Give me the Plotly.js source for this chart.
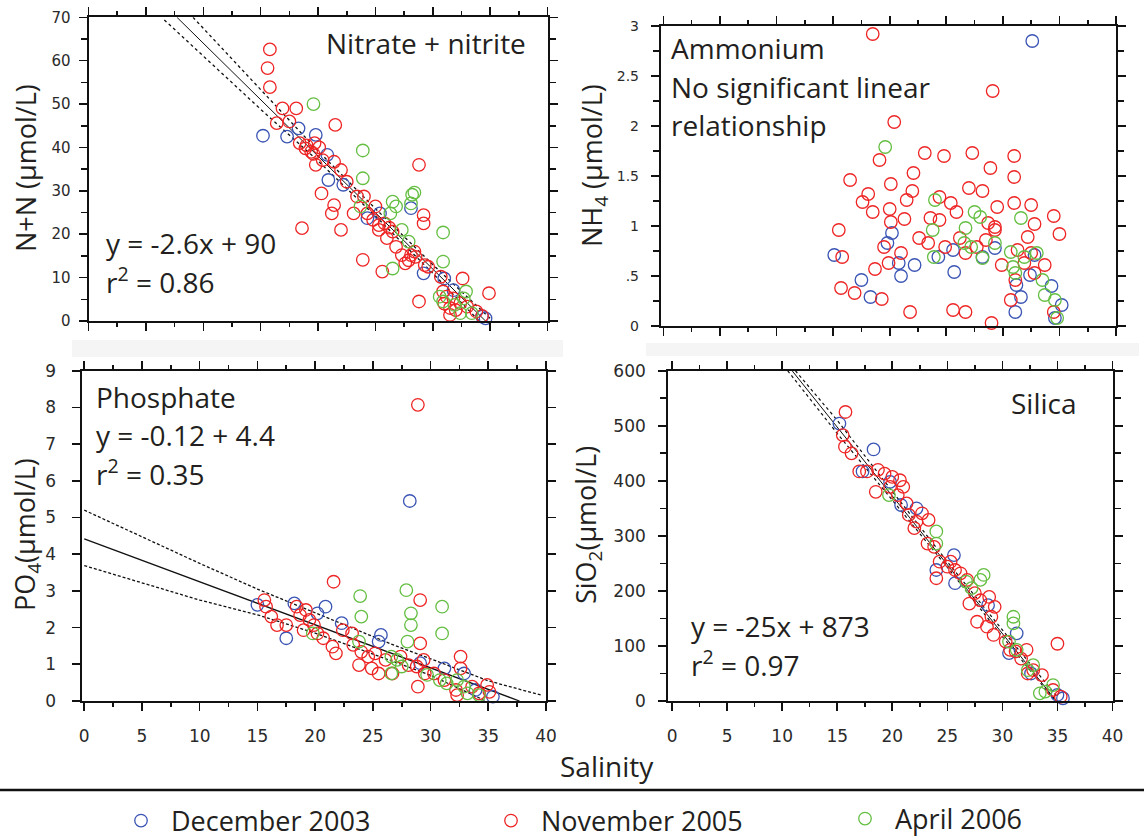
<!DOCTYPE html>
<html><head><meta charset="utf-8">
<script src="https://cdn.plot.ly/plotly-3.0.1.min.js"></script>
<style>html,body{margin:0;padding:0;background:#fff;} #chart{width:1144px;height:840px;}</style>
</head><body><div id="chart"></div>
<script>
// ---------- Nitrate + nitrite (N+N) ----------
const nnDecX = [15.2,17.3,18.3,19.8,20.8,20.9,22.2,24.3,25.4,28.1,29.2,31.0,31.8,34.3,34.6];
const nnDecY = [42.7,42.5,44.4,42.9,38.3,32.5,31.4,23.7,24.8,26.0,11.0,9.8,7.1,1.0,0.6];
const nnNovX = [15.8,15.6,15.8,16.9,18.1,16.4,17.5,21.5,18.4,18.9,19.4,19.7,19.8,20.4,21.4,22.0,20.3,21.4,21.2,22.0,18.6,23.1,23.4,24.0,25.0,24.3,24.8,25.3,23.9,25.6,26.0,26.5,26.8,27.6,27.3,28.1,28.4,28.8,29.2,29.2,28.8,29.3,29.6,30.7,30.9,31.2,31.8,32.6,32.4,33.0,33.8,34.3,34.9,31.5,22.5,25.3,19.0,19.6,20.1,25.8,26.2,27.9,28.5,31.0,31.5,32.0];
const nnNovY = [62.6,58.3,53.9,49.0,49.0,45.6,46.0,45.2,41.0,39.8,39.0,41.0,36.0,37.1,36.7,34.8,29.4,26.7,24.8,21.0,21.4,24.8,28.7,28.7,26.4,24.8,23.3,21.0,14.1,11.4,19.1,20.6,17.1,13.3,15.2,15.2,16.0,36.0,24.4,22.5,4.5,12.9,12.5,10.2,6.8,5.6,5.2,9.8,4.1,3.3,2.2,1.2,6.4,1.4,32.1,22.1,40.5,38.5,40.0,22.5,21.5,14.0,14.8,4.0,3.0,2.5];
const nnAprX = [19.6,23.9,23.9,28.4,28.2,26.5,26.8,26.3,28.1,30.9,27.3,27.9,26.5,30.9,30.6,30.9,32.9,32.7,32.4,33.4,31.9,23.7];
const nnAprY = [50.0,39.3,32.9,29.6,29.1,27.5,26.4,24.8,27.1,20.4,21.0,18.3,12.1,13.7,5.6,4.5,6.8,5.2,1.8,1.8,3.7,26.4];
const nnFitX = [7.7,34.6];   const nnFitY = [70,0];
const nnUpX = [9.1,15,20,25,30,35];  const nnUpY = [70,53.3,39.2,25.9,13.0,0.6];
const nnLoX = [6.6,15,20,25,30,35];  const nnLoY = [69.4,48.8,36.9,24.2,11.0,-2.6];

// ---------- Ammonium (NH4) ----------
const nhDecX = [32.6,15.1,17.5,18.3,19.8,20.2,20.8,21.0,22.2,24.3,25.7,25.6,28.2,29.3,31.2,31.6,31.1,32.8,32.4,34.3,35.2,34.6];
const nhDecY = [2.85,0.71,0.46,0.29,0.83,0.93,0.63,0.50,0.61,0.69,0.54,0.76,0.69,0.78,0.41,0.29,0.14,0.71,0.51,0.40,0.21,0.08];
const nhNovX = [18.5,29.1,20.4,19.1,23.1,24.8,27.3,31.0,31.0,28.9,16.5,22.1,20.1,22.0,21.5,18.1,17.6,18.5,20.0,20.1,21.3,24.4,25.4,25.9,27.0,28.2,29.5,31.0,32.5,34.5,32.8,35.0,32.2,15.5,15.8,15.7,16.9,19.3,18.7,19.9,19.5,21.0,21.8,22.6,23.4,23.6,24.4,24.9,25.6,26.7,29.0,26.2,26.7,27.7,28.5,29.3,29.9,30.7,31.1,31.3,31.9,32.5,32.8,33.7,34.5,28.7,29.3];
const nhNovY = [2.92,2.35,2.04,1.66,1.73,1.70,1.73,1.70,1.49,1.58,1.46,1.53,1.42,1.35,1.26,1.32,1.24,1.14,1.17,1.04,1.07,1.29,1.23,1.14,1.38,1.35,1.19,1.23,1.21,1.10,1.02,0.92,0.89,0.96,0.69,0.38,0.33,0.27,0.57,0.63,0.79,0.73,0.14,0.88,0.83,1.08,1.06,0.79,0.16,0.14,0.03,0.88,0.73,0.79,0.86,0.96,0.61,0.26,0.46,0.76,0.63,0.73,0.53,0.61,0.14,1.03,0.99];
const nhAprX = [19.6,24.0,31.6,27.5,28.0,23.8,23.9,26.7,26.6,27.2,28.2,29.3,30.7,30.9,31.1,31.9,33.0,33.5,33.7,34.6,34.8];
const nhAprY = [1.79,1.26,1.08,1.14,1.09,0.96,0.69,0.98,0.83,0.79,0.68,0.83,0.74,0.59,0.53,0.69,0.73,0.46,0.31,0.26,0.08];
const nhTickVals = [0,0.5,1,1.5,2,2.5,3];
const nhTickText = ['0','.5','1','1.5','2','2.5','3'];

// ---------- Phosphate (PO4) ----------
const poDecX = [28.2,15.0,17.5,18.2,20.9,20.2,22.3,25.7,25.5,29.1,31.2,32.9,33.9,35.4];
const poDecY = [5.45,2.62,1.71,2.66,2.57,2.39,2.12,1.80,1.62,1.03,0.89,0.75,0.30,0.12];
const poNovX = [28.9,21.6,29.1,29.1,32.6,15.6,15.75,16.2,16.7,17.5,18.4,18.7,19.2,19.5,19.9,20.2,19.0,20.7,21.5,21.8,22.4,23.2,23.3,24.0,23.8,24.6,24.9,25.2,25.5,26.1,26.7,27.4,28.1,28.8,29.4,29.5,28.9,30.3,31.2,32.2,32.6,33.6,34.2,34.9,35.1,32.3];
const poNovY = [8.07,3.25,2.75,1.57,1.21,2.75,2.57,2.30,2.07,2.07,2.57,2.34,2.48,2.21,2.07,1.84,1.93,1.71,1.48,1.30,1.93,1.84,1.53,1.34,0.98,1.21,0.89,1.30,0.75,1.12,0.75,1.21,0.98,0.94,1.12,0.75,0.39,0.75,0.57,0.30,0.89,0.39,0.21,0.44,0.25,0.16];
const poAprX = [27.9,23.9,24.0,28.3,28.3,28.0,31.0,31.0,19.8,23.8,26.6,27.1,26.6,27.5,29.7,30.8,31.4,32.3,32.9,33.2,34.2];
const poAprY = [3.02,2.86,2.30,2.39,2.07,1.62,2.57,1.84,1.84,1.62,1.21,1.12,0.75,0.94,0.71,0.57,0.48,0.57,0.39,0.21,0.16];
const poFitX = [0,37.7];  const poFitY = [4.42,0];
const poUpX = [0,10,15,20,27,30,35,39.7];  const poUpY = [5.2,3.75,3.05,2.4,1.5,1.15,0.55,0.15];
const poLoX = [0,10,15,20,27,30,34.8];     const poLoY = [3.69,2.75,2.35,1.85,1.05,0.7,0.0];

// ---------- Silica (SiO2) ----------
const siDecX = [15.2,18.3,17.3,19.8,20.8,22.2,25.6,24.0,25.7,28.7,31.3,30.6,32.6,35.0,35.5];
const siDecY = [504,457,417,398,356,350,265,238,214,174,123,87,50,11,5];
const siNovX = [15.75,15.5,15.7,16.3,17.0,17.7,18.7,18.5,19.3,20.0,19.8,20.7,21.0,20.5,21.3,21.5,22.2,22.0,22.7,23.3,23.2,23.8,24.0,24.3,25.0,25.3,25.7,26.2,26.8,27.0,27.5,27.7,28.0,28.8,29.0,29.3,28.6,29.2,30.3,30.7,31.2,31.7,32.2,32.3,32.8,33.6,35.0,34.6,35.3];
const siNovY = [525,483,462,450,417,417,420,380,413,407,389,401,389,374,359,338,326,314,341,329,286,280,223,253,244,253,238,232,220,177,196,144,183,189,153,171,135,120,108,93,90,77,93,50,56,47,104,20,8];
const siAprX = [19.7,24.0,24.0,28.3,28.0,26.7,27.2,31.0,31.0,30.6,31.3,32.8,32.3,34.6,33.4,33.9];
const siAprY = [374,308,286,229,220,217,205,153,141,108,93,65,56,29,14,17];
const siFitX = [10.9,34.9];  const siFitY = [600,0];
const siUpX = [11.2,15,20,25,30,35];  const siUpY = [600,510,381,253,129,7];
const siLoX = [10.5,15,20,25,30,34.8]; const siLoY = [600,486,365,243,117,0];

const seriesNames = ['December 2003','November 2005','April 2006'];

// ---------- drawing ----------
const W = 1144, H = 840;
const px = v => v / W;
const py = v => 1 - v / H;
const C = {dec:'rgb(58,84,180)', nov:'rgb(238,36,36)', apr:'rgb(100,190,66)'};
const INK = '#111';
const LEG = ['legend', 'legend2', 'legend3'];

function pts(x, y, xa, ya, k, color, show) {
  return {type:'scatter', mode:'markers', x, y, xaxis:xa, yaxis:ya, name:seriesNames[k], legendgroup:seriesNames[k],
    legend:LEG[k], showlegend:show, cliponaxis:false,
    marker:{symbol:'circle-open', size:12.5, color, line:{width:1.3, color}}};
}
function fit(x, y, xa, ya, dash, w) {
  return {type:'scatter', mode:'lines', x, y, xaxis:xa, yaxis:ya, showlegend:false,
    hoverinfo:'skip', line:{color:INK, width:w || 1, dash}};
}

const traces = [
  fit(nnFitX, nnFitY, 'x', 'y', 'solid'), fit(nnUpX, nnUpY, 'x', 'y', 'dot', 1.3), fit(nnLoX, nnLoY, 'x', 'y', 'dot', 1.3),
  fit(poFitX, poFitY, 'x3', 'y3', 'solid', 1.3), fit(poUpX, poUpY, 'x3', 'y3', '3px,2px', 1.3), fit(poLoX, poLoY, 'x3', 'y3', '3px,2px', 1.3),
  fit(siFitX, siFitY, 'x4', 'y4', 'solid'), fit(siUpX, siUpY, 'x4', 'y4', 'dot', 1.2), fit(siLoX, siLoY, 'x4', 'y4', 'dot', 1.2),

  pts(nnDecX, nnDecY, 'x', 'y', 0, C.dec, true),
  pts(nnNovX, nnNovY, 'x', 'y', 1, C.nov, true),
  pts(nnAprX, nnAprY, 'x', 'y', 2, C.apr, true),

  pts(nhDecX, nhDecY, 'x2', 'y2', 0, C.dec, false),
  pts(nhNovX, nhNovY, 'x2', 'y2', 1, C.nov, false),
  pts(nhAprX, nhAprY, 'x2', 'y2', 2, C.apr, false),

  pts(poDecX, poDecY, 'x3', 'y3', 0, C.dec, false),
  pts(poNovX, poNovY, 'x3', 'y3', 1, C.nov, false),
  pts(poAprX, poAprY, 'x3', 'y3', 2, C.apr, false),

  pts(siDecX, siDecY, 'x4', 'y4', 0, C.dec, false),
  pts(siNovX, siNovY, 'x4', 'y4', 1, C.nov, false),
  pts(siAprX, siAprY, 'x4', 'y4', 2, C.apr, false)
];

const tickFont = (s) => ({family:'DejaVu Sans', size:s, color:'#2a2a2a'});
function xax(d0, d1, r0, labels, anchor) {
  return {domain:[px(d0), px(d1)], range:[r0, 40], anchor, tickmode:'linear', tick0:0, dtick:5,
    ticks:'outside', ticklen:8, tickwidth:1.6, tickcolor:INK,
    showline:true, linewidth:2, linecolor:INK, mirror:'ticks',
    showgrid:false, zeroline:false, showticklabels:labels, tickfont:tickFont(17), ticklabelstandoff:11,
    minor:{dtick:2.5, tick0:0, ticks:'outside', ticklen:4, tickwidth:1.6, tickcolor:INK, showgrid:false},
    fixedrange:true};
}
function yax(top, bottom, range, dtick, minorD, size, standoff, anchor, extra) {
  const a = {domain:[py(bottom), py(top)], range, anchor, tickmode:'linear', tick0:0, dtick,
    ticks:'outside', ticklen:8, tickwidth:1.6, tickcolor:INK,
    showline:true, linewidth:2, linecolor:INK, mirror:'ticks',
    showgrid:false, zeroline:false, tickfont:tickFont(size), ticklabelstandoff:standoff,
    fixedrange:true};
  if (minorD) a.minor = {dtick:minorD, tick0:0, ticks:'outside', ticklen:6, tickwidth:1.6, tickcolor:INK, showgrid:false};
  return Object.assign(a, extra || {});
}

const TXT = 'Open Sans';
const ANN_FONT = {family:TXT, size:28, color:'#231f20'};
function ann(text, x, y, xanchor, extra) {
  return Object.assign({text, x:px(x), y:py(y), xref:'paper', yref:'paper', xanchor, yanchor:'middle',
    showarrow:false, font:ANN_FONT}, extra || {});
}
function ytitle(text, x, y) {
  return ann(text, x, y, 'center', {textangle:-90, font:{family:TXT, size:27, color:'#231f20'}});
}
function leg(xc, yc) {
  return {orientation:'v', x:px(xc), xanchor:'left', y:py(yc), yanchor:'middle', itemwidth:50,
    font:{family:TXT, size:27, color:'#231f20'}, bgcolor:'rgba(0,0,0,0)', borderwidth:0,
    itemclick:false, itemdoubleclick:false};
}

const layout = {
  width:W, height:H, margin:{l:0, r:0, t:0, b:0, pad:0, autoexpand:false},
  paper_bgcolor:'#fff', plot_bgcolor:'rgba(0,0,0,0)', showlegend:true,
  xaxis:  xax(88.6, 547.5, 0, false, 'y'),
  yaxis:  yax(17.3, 321, [0,70], 10, 5, 15, 5, 'x'),
  xaxis2: xax(660.8, 1116, -0.23, false, 'y2'),
  yaxis2: yax(26, 326, [0,3], 0.5, 0.25, 14, 9, 'x2', {tickmode:'array', tickvals:nhTickVals, ticktext:nhTickText}),
  xaxis3: xax(81.6, 546, -0.23, true, 'y3'),
  yaxis3: yax(370.7, 701, [0,9], 1, null, 17, 12, 'x3'),
  xaxis4: xax(668.2, 1112.5, -0.35, true, 'y4'),
  yaxis4: yax(370.7, 701, [0,600], 100, 50, 17, 9, 'x4'),
  legend:  leg(111, 821),
  legend2: leg(481, 821),
  legend3: leg(835, 819),
  shapes:[
    {type:'rect', xref:'paper', yref:'paper', x0:px(72), x1:px(563), y0:py(357), y1:py(340), fillcolor:'#f5f5f5', line:{width:0}, layer:'below'},
    {type:'rect', xref:'paper', yref:'paper', x0:px(646), x1:px(1139), y0:py(356), y1:py(343), fillcolor:'#f5f5f5', line:{width:0}, layer:'below'},
    {type:'line', xref:'paper', yref:'paper', x0:0, x1:1, y0:py(790), y1:py(790), line:{color:INK, width:2.5}}
  ],
  annotations:[
    ann('Nitrate + nitrite', 528, 43, 'right'),
    ann('y = -2.6x + 90', 104, 243, 'left'),
    ann('r<sup>2</sup> = 0.86', 104, 281, 'left'),
    ann('Ammonium', 669, 48, 'left'),
    ann('No significant linear', 669, 87, 'left'),
    ann('relationship', 669, 125, 'left'),
    ann('Phosphate', 94, 397, 'left'),
    ann('y = -0.12 + 4.4', 94, 435, 'left'),
    ann('r<sup>2</sup> = 0.35', 94, 472, 'left'),
    ann('Silica', 1079, 403, 'right'),
    ann('y = -25x + 873', 689, 626, 'left'),
    ann('r<sup>2</sup> = 0.97', 689, 663, 'left'),
    ytitle('N+N (µmol/L)', 26, 168),
    ytitle('NH<sub>4</sub> (µmol/L)', 594, 166),
    ytitle('PO<sub>4</sub>(µmol/L)', 26, 535),
    ytitle('SiO<sub>2</sub>(µmol/L)', 587, 525),
    ann('Salinity', 607, 766, 'center')
  ]
};

Plotly.newPlot('chart', traces, layout, {displayModeBar:false, staticPlot:true});
</script>
</body></html>
